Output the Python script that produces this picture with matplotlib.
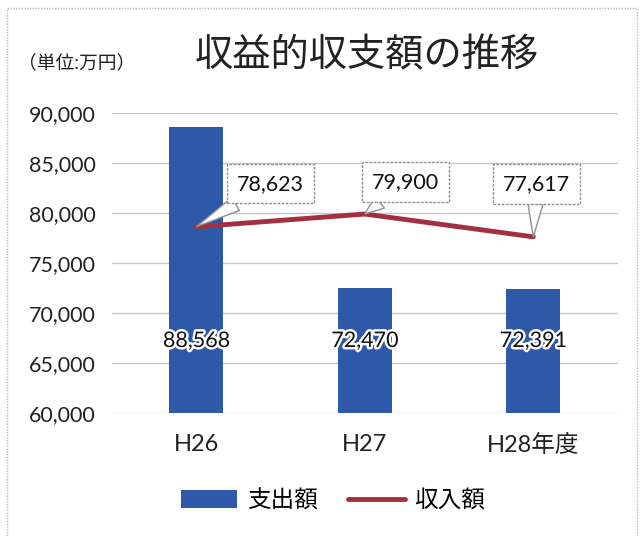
import matplotlib.pyplot as plt
import matplotlib.patheffects as pe
from matplotlib.patches import Rectangle
from matplotlib.ticker import FuncFormatter

plt.rcParams['font.family'] = ['Lato', 'Noto Sans CJK JP', 'DejaVu Sans']

# data
years = ['H26', 'H27', 'H28年度']
spend = [88568, 72470, 72391]     # 支出額
income = [78623, 79900, 77617]    # 収入額
yticks = [60000, 65000, 70000, 75000, 80000, 85000, 90000]

bar_color = '#2D59A8'
line_color = '#A3303F'

fig = plt.figure(figsize=(6.44, 5.37), dpi=100)
ax = fig.add_axes([0.174, 0.2309, 0.785, 0.5586])

x = list(range(len(years)))
bars = ax.bar(x, spend, width=0.32, color=bar_color, label='支出額', zorder=2)
line, = ax.plot(x, income, color=line_color, lw=3.5, label='収入額', zorder=3,
                solid_capstyle='round')

ax.set_ylim(yticks[0], yticks[-1])
ax.set_xlim(-0.5, len(years) - 0.5)
ax.set_yticks(yticks)
ax.yaxis.set_major_formatter(FuncFormatter(lambda v, p: f'{int(v):,}'))
ax.set_xticks(x)
ax.set_xticklabels(years)
ax.tick_params(axis='both', length=0, colors='#222222')
ax.tick_params(axis='y', labelsize=15.5, pad=12)
ax.tick_params(axis='x', labelsize=17, pad=15)
ax.grid(axis='y', color='#C8C8CC', lw=1.0, zorder=0)
for s in ax.spines.values():
    s.set_visible(False)

# bar values inside bars, black with white halo
for xi, v in zip(x, spend):
    ax.text(xi, 0.24, f'{v:,}', transform=ax.get_xaxis_transform(),
            ha='center', va='center', fontsize=15.5, color='#111111', zorder=4,
            path_effects=[pe.withStroke(linewidth=3.5, foreground='white')])

# callouts for income line
offsets = [(0.44, 4300), (0.24, 3200), (0.02, 5300)]
for xi, v, (dx, dy) in zip(x, income, offsets):
    ax.annotate(f'{v:,}', xy=(xi, v), xytext=(xi + dx, v + dy),
                ha='center', va='center', fontsize=15.5, color='#111111', zorder=5,
                bbox=dict(boxstyle='square,pad=0.45', fc='white', ec='#909090',
                          ls=(0, (2, 1)), lw=1),
                arrowprops=dict(arrowstyle='wedge,tail_width=0.7', fc='white',
                                ec='#909090', lw=1, shrinkA=0, shrinkB=0))

# titles
fig.text(0.57, 0.897, '収益的収支額の推移', ha='center', va='center',
         fontsize=27.5, color='#222222')
fig.text(0.028, 0.884, '（単位:万円）', ha='left', va='center', fontsize=13.5,
         color='#222222')

# legend
fig.legend(handles=[bars, line], labels=['支出額', '収入額'], loc='center',
           bbox_to_anchor=(0.517, 0.068), ncol=2, frameon=False, fontsize=17,
           handlelength=2.4, handleheight=0.8, handletextpad=0.4, columnspacing=1.3)

# chart frame
fig.patches.append(Rectangle((0.011, -0.02), 0.978, 1.005, transform=fig.transFigure,
                             fill=False, ec='#BBBBBB', lw=1, ls=(0, (1, 1))))

fig.savefig('out.png', dpi=100)
